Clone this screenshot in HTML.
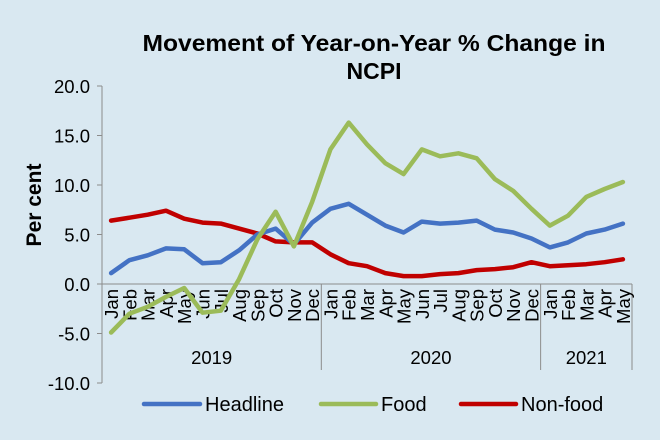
<!DOCTYPE html>
<html><head><meta charset="utf-8"><style>
html,body{margin:0;padding:0;background:#d9e8f1;}
svg{display:block;font-family:"Liberation Sans",Arial,sans-serif;}
</style></head><body>
<svg id="s" width="660" height="440" viewBox="0 0 660 440" xmlns="http://www.w3.org/2000/svg">
<rect width="660" height="440" fill="#d9e8f1"/>
<text x="374" y="51" font-size="23" font-weight="bold" text-anchor="middle" textLength="463" lengthAdjust="spacingAndGlyphs">Movement of Year-on-Year % Change in</text>
<text x="374" y="79" font-size="23" font-weight="bold" text-anchor="middle">NCPI</text>
<text transform="translate(41,205) rotate(-90)" font-size="21" font-weight="bold" text-anchor="middle">Per cent</text>
<g id="ax" stroke="#8c8c8c" stroke-width="1" fill="none"></g>
<g id="lab" font-size="18.5" fill="#000"></g>
<g id="ser" fill="none" stroke-width="4.5" stroke-linejoin="round" stroke-linecap="round"></g>
<g font-size="20">
<line x1="144" y1="404" x2="200" y2="404" stroke="#4472c4" stroke-width="4.5" stroke-linecap="round"/>
<text x="205" y="411">Headline</text>
<line x1="321" y1="404" x2="376" y2="404" stroke="#9bbb59" stroke-width="4.5" stroke-linecap="round"/>
<text x="381" y="411">Food</text>
<line x1="461" y1="404" x2="516" y2="404" stroke="#c00000" stroke-width="4.5" stroke-linecap="round"/>
<text x="521" y="411">Non-food</text>
</g>
</svg>
<script>
var NS="http://www.w3.org/2000/svg";
function el(p,t,a,txt){var e=document.createElementNS(NS,t);for(var k in a)e.setAttribute(k,a[k]);if(txt!==undefined)e.textContent=txt;p.appendChild(e);return e;}
var x0=102,x1=632,n=29,cw=(x1-x0)/n;
function Y(v){return 284-v*9.9;}
function X(i){return x0+cw*(i+0.5);}
var ax=document.getElementById('ax'),lab=document.getElementById('lab'),ser=document.getElementById('ser');
el(ax,'line',{x1:x0,y1:Y(20),x2:x0,y2:Y(-10)});
el(ax,'line',{x1:x0,y1:Y(0),x2:x1,y2:Y(0)});
for(var v=-10;v<=20;v+=5){el(ax,'line',{x1:x0-5,y1:Y(v),x2:x0,y2:Y(v)});el(lab,'text',{x:x0-12,y:Y(v)+7,'text-anchor':'end'},v.toFixed(1));}
[x0,x0+12*cw,x0+24*cw,x1].forEach(function(x){el(ax,'line',{x1:x,y1:Y(0),x2:x,y2:370});});
var m=["Jan","Feb","Mar","Apr","May","Jun","Jul","Aug","Sep","Oct","Nov","Dec"];
for(var i=0;i<n;i++){el(lab,'text',{transform:'translate('+(X(i)+7)+',289) rotate(-90)','text-anchor':'end'},m[i%12]);}
el(lab,'text',{x:x0+6*cw,y:364,'text-anchor':'middle'},"2019");
el(lab,'text',{x:x0+18*cw,y:364,'text-anchor':'middle'},"2020");
el(lab,'text',{x:x0+26.5*cw,y:364,'text-anchor':'middle'},"2021");
var H=[1.1,2.4,2.9,3.6,3.5,2.1,2.2,3.4,5.0,5.6,4.0,6.2,7.6,8.1,7.0,5.9,5.2,6.3,6.1,6.2,6.4,5.5,5.2,4.6,3.7,4.2,5.1,5.5,6.1];
var F=[-4.9,-3,-2.3,-1.3,-0.4,-2.9,-2.7,0.5,4.5,7.3,3.8,8.3,13.6,16.3,14.1,12.2,11.1,13.6,12.9,13.2,12.7,10.6,9.4,7.6,5.9,6.9,8.8,9.6,10.3];
var N=[6.4,6.7,7.0,7.4,6.6,6.2,6.1,5.6,5.1,4.3,4.2,4.2,3.0,2.1,1.8,1.1,0.8,0.8,1.0,1.1,1.4,1.5,1.7,2.2,1.8,1.9,2.0,2.2,2.5];
function pl(d,c){el(ser,'polyline',{points:d.map(function(v,i){return X(i).toFixed(1)+','+Y(v).toFixed(1);}).join(' '),stroke:c});}
pl(N,"#c00000");pl(H,"#4472c4");pl(F,"#9bbb59");
</script>
</body></html>
